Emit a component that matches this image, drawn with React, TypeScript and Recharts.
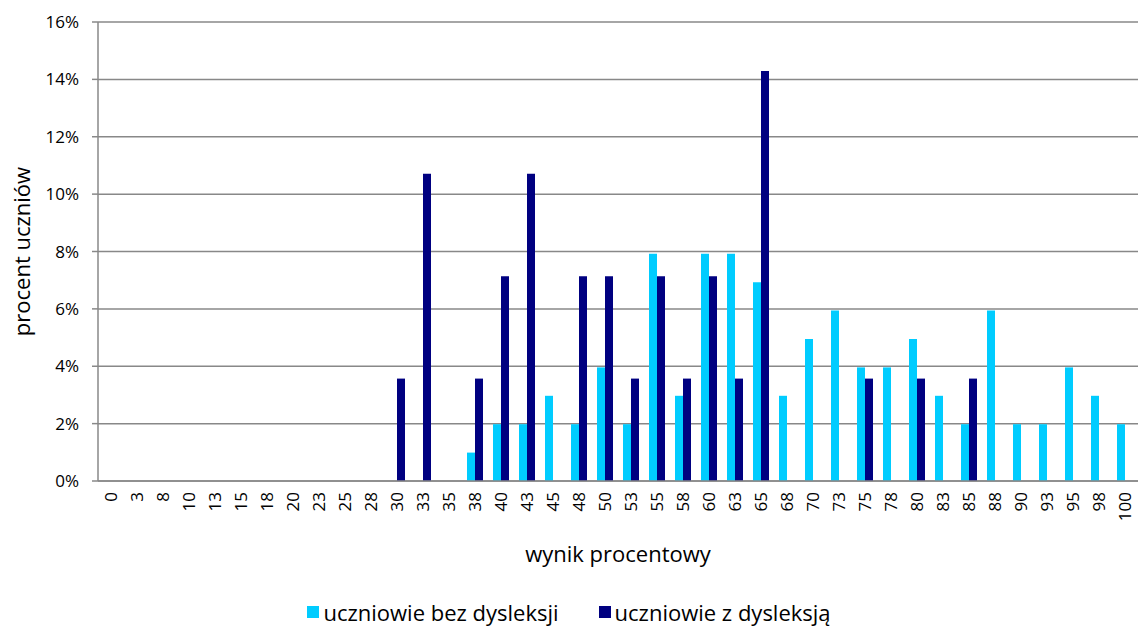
import {
  Bar,
  BarChart,
  CartesianGrid,
  Legend,
  XAxis,
  YAxis,
} from "recharts";

const SCORES = [
  "0", "3", "8", "10", "13", "15", "18", "20", "23", "25",
  "28", "30", "33", "35", "38", "40", "43", "45", "48", "50",
  "53", "55", "58", "60", "63", "65", "68", "70", "73", "75",
  "78", "80", "83", "85", "88", "90", "93", "95", "98", "100",
];

// percent of students without dyslexia
const BEZ_DYSLEKSJI = [
  0, 0, 0, 0, 0, 0, 0, 0, 0, 0,
  0, 0, 0, 0, 0.99, 1.98, 1.98, 2.97, 1.98, 3.96,
  1.98, 7.92, 2.97, 7.92, 7.92, 6.93, 2.97, 4.95, 5.94, 3.96,
  3.96, 4.95, 2.97, 1.98, 5.94, 1.98, 1.98, 3.96, 2.97, 1.98,
];

// percent of students with dyslexia
const Z_DYSLEKSJA = [
  0, 0, 0, 0, 0, 0, 0, 0, 0, 0,
  0, 3.57, 10.71, 0, 3.57, 7.14, 10.71, 0, 7.14, 7.14,
  3.57, 7.14, 3.57, 7.14, 3.57, 14.29, 0, 0, 0, 3.57,
  0, 3.57, 0, 3.57, 0, 0, 0, 0, 0, 0,
];

const Y_TICKS = [0, 2, 4, 6, 8, 10, 12, 14, 16];

const FONT = "'Open Sans', sans-serif";

const data = SCORES.map((s, i) => ({
  score: s,
  bez: BEZ_DYSLEKSJI[i],
  z: Z_DYSLEKSJA[i],
}));

function LegendContent() {
  const items = [
    { label: "uczniowie bez dysleksji", color: "#00CCFF" },
    { label: "uczniowie z dysleksją", color: "#000080" },
  ];
  return (
    <div
      style={{
        display: "flex",
        justifyContent: "center",
        gap: 40,
        height: 30,
        lineHeight: "30px",
        fontFamily: FONT,
        fontSize: 22,
        color: "#000",
      }}
    >
      {items.map((it) => (
        <div key={it.label} style={{ display: "flex", alignItems: "center" }}>
          <span style={{ width: 12, height: 12, background: it.color, marginRight: 4, display: "inline-block" }} />
          <span>{it.label}</span>
        </div>
      ))}
    </div>
  );
}

export default function App() {
  return (
    <div style={{ position: "absolute", left: 0, top: 0, width: 1141, height: 637, background: "#fff" }}>
      <BarChart
        width={1141}
        height={637}
        data={data}
        margin={{ top: 22, right: 3, left: 0, bottom: 10 }}
        barGap={0}
        barSize={8}
      >
        <CartesianGrid vertical={false} stroke="#888888" strokeWidth={1.5} />
        <XAxis
          dataKey="score"
          interval={0}
          height={116}
          stroke="#888888"
          strokeWidth={1.5}
          tickLine={false}
          tick={{ fontSize: 17, fill: "#000", fontFamily: FONT, angle: -90, textAnchor: "end", dx: -6 }}
          tickMargin={5}
          label={{ value: "wynik procentowy", position: "insideBottom", offset: 35, fontSize: 22, fill: "#000", fontFamily: FONT }}
        />
        <YAxis
          width={98}
          domain={[0, 16]}
          ticks={Y_TICKS}
          interval={0}
          stroke="#888888"
          strokeWidth={1.5}
          tickSize={6}
          tickMargin={13}
          tickFormatter={(v) => `${v}%`}
          tick={{ fontSize: 17, fill: "#000", fontFamily: FONT }}
          label={{ value: "procent uczniów", angle: -90, position: "insideLeft", offset: 22, fontSize: 22, fill: "#000", fontFamily: FONT, style: { textAnchor: "middle" } }}
        />
        <Legend verticalAlign="bottom" content={<LegendContent />} />
        <Bar dataKey="bez" name="uczniowie bez dysleksji" fill="#00CCFF" isAnimationActive={false} />
        <Bar dataKey="z" name="uczniowie z dysleksją" fill="#000080" isAnimationActive={false} />
      </BarChart>
    </div>
  );
}
